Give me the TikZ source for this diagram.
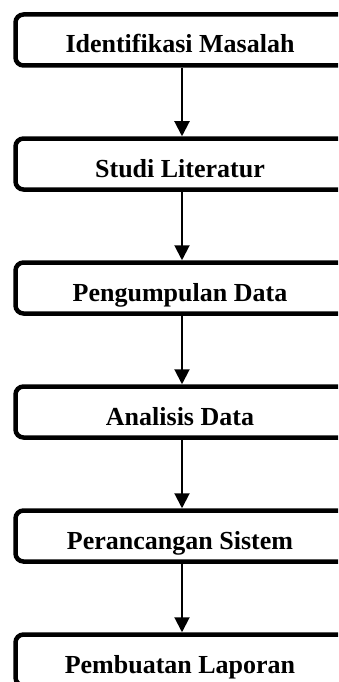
\documentclass[tikz,border=0pt]{standalone}
\usepackage{fontspec}
\setmainfont{Liberation Serif}
\usetikzlibrary{arrows.meta}
\begin{document}
\begin{tikzpicture}[x=1pt,y=-1pt,
  stepbox/.style={draw=black, line width=4.5pt, rounded corners=8pt, rectangle,
    minimum width=360pt, minimum height=51pt, anchor=north west, inner sep=0pt},
  lbl/.style={anchor=base, inner sep=0pt, font=\fontsize{26}{30}\selectfont\bfseries},
  arr/.style={draw=black, line width=2pt, -{Triangle[length=15pt,width=15pt]}}]
\useasboundingbox (0,0) rectangle (338,682);
\clip (0,0) rectangle (338,682);
\coordinate (ax) at (182,0);
\node[stepbox] (b1) at (13.25,12.25) {};
\node[stepbox] (b2) at (13.25,136.25) {};
\node[stepbox] (b3) at (13.25,260.25) {};
\node[stepbox] (b4) at (13.25,384.25) {};
\node[stepbox] (b5) at (13.25,508.25) {};
\node[stepbox] (b6) at (13.25,632.25) {};
\node[lbl] (t1) at (180,53) {Identifikasi Masalah};
\node[lbl] (t2) at (180,177) {Studi Literatur};
\node[lbl] (t3) at (180,301) {Pengumpulan Data};
\node[lbl] (t4) at (180,425) {Analisis Data};
\node[lbl] (t5) at (180,549) {Perancangan Sistem};
\node[lbl] (t6) at (180,673) {Pembuatan Laporan};
\draw[arr] (b1.south -| ax) -- (b2.north -| ax);
\draw[arr] (b2.south -| ax) -- (b3.north -| ax);
\draw[arr] (b3.south -| ax) -- (b4.north -| ax);
\draw[arr] (b4.south -| ax) -- (b5.north -| ax);
\draw[arr] (b5.south -| ax) -- (b6.north -| ax);
\end{tikzpicture}
\end{document}
